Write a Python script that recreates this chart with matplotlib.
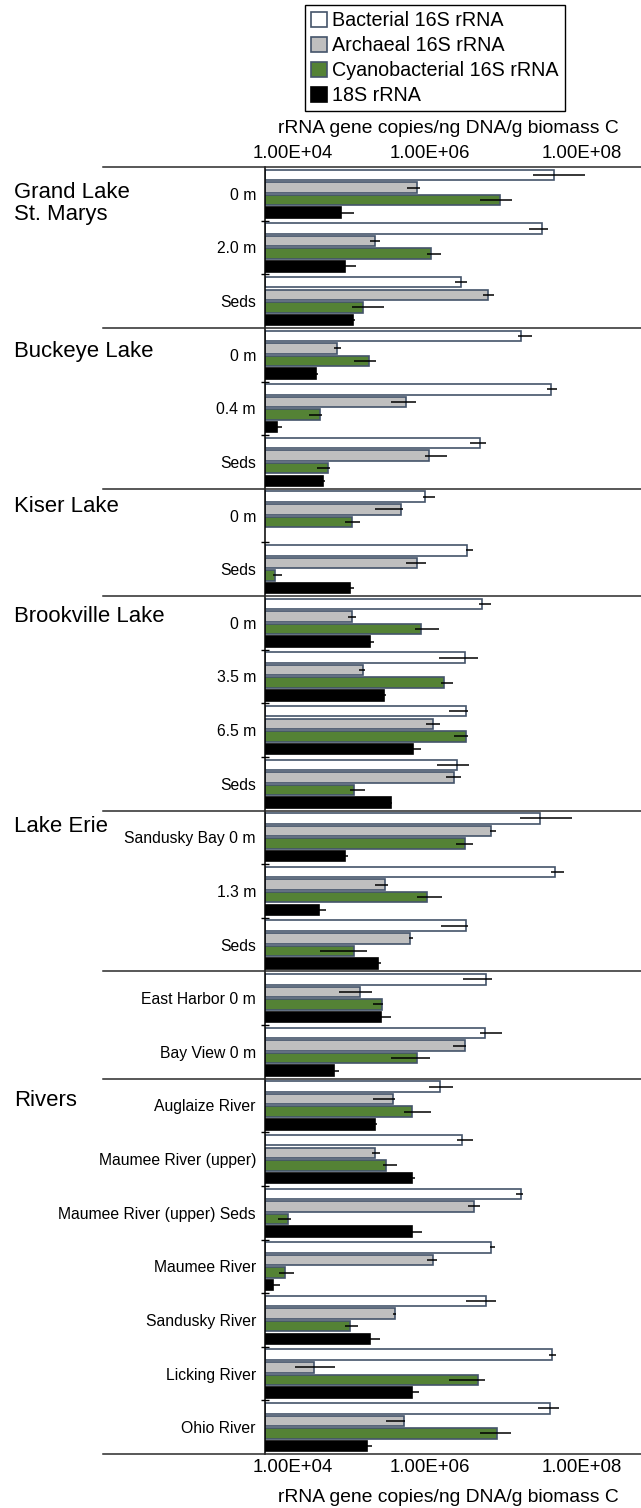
import numpy as np
import matplotlib
matplotlib.use('Agg')
import matplotlib.pyplot as plt
from matplotlib.patches import Patch
from matplotlib.transforms import blended_transform_factory

plt.rcParams['font.family'] = ['Liberation Sans', 'DejaVu Sans']

# sample sites, top to bottom
categories = ['0 m', '2.0 m', 'Seds',
              '0 m', '0.4 m', 'Seds',
              '0 m', 'Seds',
              '0 m', '3.5 m', '6.5 m', 'Seds',
              'Sandusky Bay 0 m', '1.3 m', 'Seds',
              'East Harbor 0 m', 'Bay View 0 m',
              'Auglaize River', 'Maumee River (upper)', 'Maumee River (upper) Seds',
              'Maumee River', 'Sandusky River', 'Licking River', 'Ohio River']
groups = ['Grand Lake\nSt. Marys', 'Buckeye Lake', 'Kiser Lake', 'Brookville Lake',
          'Lake Erie', '', 'Rivers']
group_sizes = [3, 3, 2, 4, 3, 2, 7]

series = ['Bacterial 16S rRNA', 'Archaeal 16S rRNA', 'Cyanobacterial 16S rRNA', '18S rRNA']

# gene copies/ng DNA/g biomass C, with the low/high ends of the error bars
bact = [6.3e7, 4.4e7, 3.8e6, 2.35e7, 5.8e7, 6.8e6, 1.28e6, 4.6e6, 7.2e6, 4.3e6, 4.4e6, 3.4e6,
        4.2e7, 6.5e7, 4.4e6, 8.2e6, 7.9e6, 2.02e6, 3.9e6, 2.35e7, 9.5e6, 8.2e6, 5.95e7, 5.6e7]
bact_lo = [3.4e7, 3.0e7, 3.2e6, 2.16e7, 5.1e7, 5.0e6, 1.2e6, 4.4e6, 6.6e6, 1.93e6, 2.6e6, 1.86e6,
           2.26e7, 5.8e7, 2.1e6, 4.05e6, 6.8e6, 1.45e6, 3.4e6, 2.0e7, 9.1e6, 4.4e6, 5.5e7, 3.86e7]
bact_hi = [1.6e8, 5.3e7, 4.6e6, 3.3e7, 6.9e7, 8.2e6, 1.75e6, 5.5e6, 9.5e6, 6.3e6, 4.7e6, 4.8e6,
           1.1e8, 8.6e7, 4.7e6, 9.6e6, 1.31e7, 2.97e6, 5.5e6, 2.5e7, 1.05e7, 1.08e7, 6.7e7, 7.4e7]

arch = [1.0e6, 2.8e5, 8.7e6, 8.9e4, 7.1e5, 1.45e6, 6.1e5, 1.0e6, 1.38e5, 1.92e5, 1.6e6, 3.1e6,
        9.5e6, 3.8e5, 8.1e5, 1.77e5, 4.25e6, 4.9e5, 2.8e5, 5.7e6, 1.6e6, 5.1e5, 4.35e4, 6.7e5]
arch_lo = [7.3e5, 2.4e5, 7.4e6, 8.2e4, 4.6e5, 1.28e6, 2.8e5, 7.1e5, 1.25e5, 1.7e5, 1.33e6, 2.38e6,
           9.1e6, 2.8e5, 7.8e5, 9.5e4, 2.97e6, 2.6e5, 2.56e5, 4.7e6, 1.36e6, 4.9e5, 2.5e4, 3.95e5]
arch_hi = [1.1e6, 3.3e5, 1.03e7, 1.0e5, 9.8e5, 2.47e6, 6.5e5, 1.31e6, 1.56e5, 2.07e5, 1.98e6, 3.8e6,
           1.08e7, 4.2e5, 8.8e5, 2.56e5, 4.4e6, 5.1e5, 3.3e5, 6.65e6, 1.81e6, 5.25e5, 8.4e4, 6.9e5]

cyano = [1.22e7, 1.54e6, 1.95e5, 2.35e5, 5.3e4, 6.8e4, 1.38e5, 1.34e4, 1.13e6, 2.3e6, 4.4e6, 1.47e5,
         4.25e6, 1.36e6, 1.47e5, 3.5e5, 1.0e6, 8.6e5, 3.95e5, 2.0e4, 1.83e4, 1.33e5, 6.3e6, 1.12e7]
cyano_lo = [6.8e6, 1.36e6, 1.38e5, 1.47e5, 3.75e4, 4.8e4, 1.14e5, 1.28e4, 9.4e5, 2.1e6, 3.1e6, 1.3e5,
            3.3e6, 1.0e6, 5.3e4, 2.6e5, 4.6e5, 6.7e5, 3.6e5, 1.48e4, 1.54e4, 1.14e5, 2.6e6, 6.8e6]
cyano_hi = [1.77e7, 2.05e6, 3.7e5, 2.9e5, 5.6e4, 7.2e4, 1.77e5, 1.68e4, 1.93e6, 2.97e6, 4.7e6, 2.07e5,
            5.5e6, 2.15e6, 2.2e5, 3.6e5, 1.49e6, 1.54e6, 5.5e5, 2.2e4, 2.43e4, 1.66e5, 7.9e6, 1.73e7]

# 18S not detected at Kiser Lake 0 m
euk = [1.0e5, 1.12e5, 1.45e5, 4.7e4, 1.43e4, 5.8e4, np.nan, 1.3e5, 2.4e5, 3.7e5, 8.8e5, 4.6e5,
       1.12e5, 5.2e4, 3.1e5, 3.36e5, 8.1e4, 2.8e5, 8.5e5, 8.5e5, 1.28e4, 2.4e5, 8.5e5, 2.2e5]
euk_lo = [8.4e4, 1.05e5, 1.3e5, 4.5e4, 1.34e4, 5.4e4, np.nan, 1.25e5, 2.26e5, 3.6e5, 8.3e5, 4.5e5,
          1.05e5, 5.0e4, 2.97e5, 3.2e5, 7.6e4, 2.7e5, 8.1e5, 8.3e5, 1.23e4, 2.34e5, 8.3e5, 2.12e5]
euk_hi = [1.47e5, 1.56e5, 1.52e5, 5.0e4, 1.68e4, 6.2e4, np.nan, 1.47e5, 2.72e5, 3.95e5, 1.13e6, 4.75e5,
          1.22e5, 6.3e4, 3.36e5, 4.6e5, 9.3e4, 2.97e5, 9.4e5, 1.16e6, 1.58e4, 3.3e5, 1.06e6, 2.56e5]

W, H = 641, 1508
fig = plt.figure(figsize=(W / 100, H / 100), dpi=100)

ax_left, ax_right, ax_top, ax_bot = 265, 641, 167, 1454
ax = fig.add_axes([ax_left / W, 1 - ax_bot / H, (ax_right - ax_left) / W, (ax_bot - ax_top) / H])

base = 1e4
px_per_decade = 76
ax.set_xscale('log')
ax.set_xlim(base, base * 10 ** ((ax_right - ax_left) / px_per_decade))
n = len(categories)
ax.set_ylim(n - 0.5, -0.5)

fills = ['white', '#BFBFBF', '#548235', 'black']
edges = ['#44546A', '#44546A', '#44546A', 'black']
data = [(bact, bact_lo, bact_hi), (arch, arch_lo, arch_hi),
        (cyano, cyano_lo, cyano_hi), (euk, euk_lo, euk_hi)]

pitch = 0.234
height = 0.196
y = np.arange(n)
for j, (vals, lo, hi) in enumerate(data):
    vals = np.array(vals)
    lo = np.array(lo)
    hi = np.array(hi)
    yy = y + (j - 1.5) * pitch
    ok = ~np.isnan(vals)
    ax.barh(yy[ok], vals[ok] - base, left=base, height=height,
            color=fills[j], edgecolor=edges[j], linewidth=1.2, zorder=2)
    ax.errorbar(vals[ok], yy[ok], xerr=[vals[ok] - lo[ok], hi[ok] - vals[ok]],
                fmt='none', ecolor='black', elinewidth=1.1, capsize=0, zorder=3)

# axis frame
for s in ['top', 'right', 'bottom']:
    ax.spines[s].set_visible(False)
ax.spines['left'].set_linewidth(1.1)
ax.spines['left'].set_color('black')
ax.spines['left'].set_zorder(4)

ax.set_xticks([])
ax.minorticks_off()
ax.set_yticks(y)
ax.set_yticklabels(categories, fontsize=11.3)
ax.tick_params(axis='y', which='major', length=0, pad=6.5)

bounds = np.cumsum([0] + group_sizes) - 0.5
inner = [i + 0.5 for i in range(n - 1) if (i + 0.5) not in bounds]
ax.set_yticks(inner, minor=True)
ax.tick_params(axis='y', which='minor', direction='inout', length=5.5, width=1.0, color='black')

# separators between site groups
trans = blended_transform_factory(fig.transFigure, ax.transData)
for b in bounds:
    ax.plot([103 / W, 1.0], [b, b], transform=trans, color='#2a2a2a', lw=1.1,
            clip_on=False, zorder=5)

# group names
label_drop = [15, 13, 7, 10, 6, 0, 11]
for g, start, d in zip(groups, bounds[:-1], label_drop):
    if not g:
        continue
    ax.annotate(g, xy=(14 / W, start), xycoords=trans, xytext=(0, -d),
                textcoords='offset pixels', ha='left', va='top', fontsize=15.9,
                linespacing=1.05)

# value axis labels, top and bottom
tick_vals = [1e4, 1e6, 1e8]
tick_shift = [28, 13, 13]
for v, dx in zip(tick_vals, tick_shift):
    lab = '%.2E' % v
    ax.annotate(lab, xy=(v, 1), xycoords=('data', 'axes fraction'), xytext=(dx, 14),
                textcoords='offset pixels', ha='center', va='center', fontsize=13.4,
                annotation_clip=False)
    ax.annotate(lab, xy=(v, 0), xycoords=('data', 'axes fraction'), xytext=(dx, -14),
                textcoords='offset pixels', ha='center', va='center', fontsize=13.4,
                annotation_clip=False)

xlabel = 'rRNA gene copies/ng DNA/g biomass C'
fig.text(448 / W, 1 - 133 / H, xlabel, ha='center', va='baseline', fontsize=13.9)
fig.text(448 / W, 1 - 1502 / H, xlabel, ha='center', va='baseline', fontsize=13.9)

handles = [Patch(facecolor=f, edgecolor=e, linewidth=1.2) for f, e in zip(fills, edges)]
leg = fig.legend(handles, series, loc='upper left', bbox_to_anchor=(305 / W, 1 - 5 / H),
                 bbox_transform=fig.transFigure, fontsize=14.2, frameon=True, fancybox=False,
                 edgecolor='black', framealpha=1, borderpad=0.32, labelspacing=0.3,
                 handlelength=0.82, handleheight=0.82, handletextpad=0.25, borderaxespad=0)
leg.get_frame().set_linewidth(1.0)

fig.savefig('out.png', dpi=100)
